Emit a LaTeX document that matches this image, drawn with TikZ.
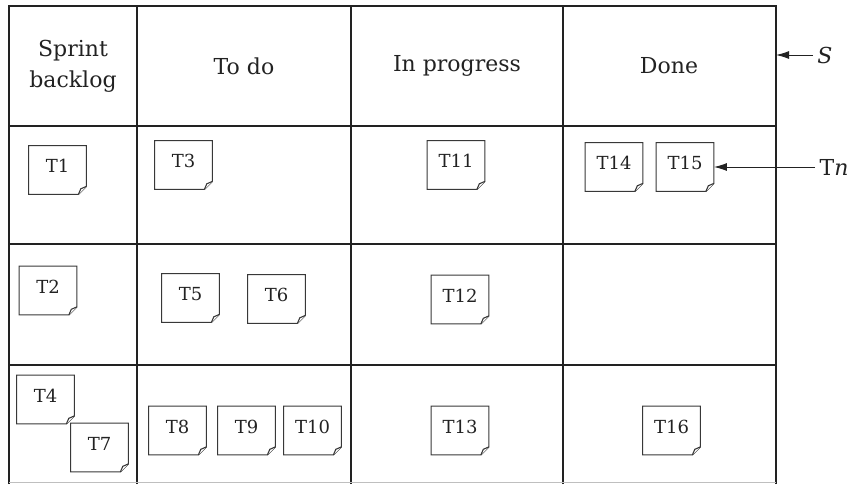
\documentclass[tikz,border=0pt]{standalone}
\usepackage{fontspec}
\setmainfont{DejaVu Serif}
\usepackage{xcolor}
\definecolor{ink}{HTML}{222222}
\usepackage{tikz}
\usetikzlibrary{arrows.meta,positioning}

\begin{document}
\begin{tikzpicture}[
  x=0.5pt,y=0.5pt,
  grid/.style={draw=ink,line width=1.1pt},
  head/.style={align=center,font=\fontsize{11}{15.5}\selectfont,text=ink},
  note/.style={minimum width=28.5pt,minimum height=24pt,inner sep=0pt,text depth=4pt,font=\fontsize{9}{10}\selectfont,text=ink},
  fold/.style={draw=ink!90,line width=0.55pt,line join=miter},
  lbl/.style={font=\fontsize{11}{13}\selectfont,text=ink,inner sep=2pt},
  arr/.style={-{Latex[length=6.5pt,width=4pt]},line width=0.5pt,draw=ink}
]
\useasboundingbox (0,0) rectangle (850,484);
% board
\foreach \x in {9,137,351,563,776} \draw[grid] (\x,0) -- (\x,479);
\foreach \y in {478,358,240,119} \draw[grid] (9,\y) -- (776,\y);
\draw[draw=black!25,line width=0.5pt] (9,1.5) -- (776,1.5);
% column heads
\node[head] (backlog) at (73,418) {Sprint\\backlog};
\node[head] (todo) at (244,418) {To do};
\node[head] (prog) at (457,418) {In progress};
\node[head] (done) at (669,418) {Done};
% task notes
\node[note] (t1) at (57.5,314) {T1};
\node[note] (t3) at (183.5,319) {T3};
\node[note] (t11) at (456,319) {T11};
\node[note] (t14) at (614,317) {T14};
\node[note] (t15) at (685,317) {T15};
\node[note] (t2) at (48,193.5) {T2};
\node[note] (t5) at (190.5,186) {T5};
\node[note] (t6) at (276.5,185) {T6};
\node[note] (t12) at (460,184.5) {T12};
\node[note] (t4) at (45.5,84.5) {T4};
\node[note] (t7) at (99.5,36.5) {T7};
\node[note] (t8) at (177.5,53.5) {T8};
\node[note] (t9) at (246.5,53.5) {T9};
\node[note] (t10) at (312.5,53.5) {T10};
\node[note] (t13) at (460,53.5) {T13};
\node[note] (t16) at (671.5,53.5) {T16};
\foreach \n in {t1,t2,t3,t4,t5,t6,t7,t8,t9,t10,t11,t12,t13,t14,t15,t16} {
  \draw[fold] (\n.north west) -- (\n.north east) -- ([yshift=4pt]\n.south east) -- ([xshift=-4pt]\n.south east) -- (\n.south west) -- cycle;
  \draw[fold,fill=white] ([xshift=-4pt]\n.south east) -- ([xshift=-2.8pt,yshift=2.8pt]\n.south east) -- ([yshift=4pt]\n.south east);
}
% callouts
\coordinate (sTip) at (776,429);
\node[lbl] (s) at (825,429) {\textit{S}};
\node[lbl] (tn) at (834,317) {T\textit{n}};
\draw[arr] (s) -- (sTip); \draw[arr] (tn) -- (t15);
\end{tikzpicture}
\end{document}
